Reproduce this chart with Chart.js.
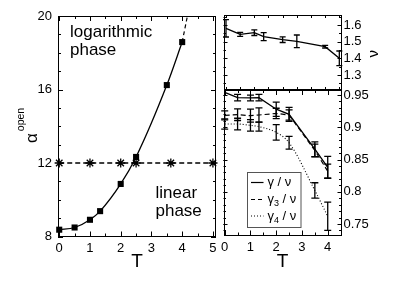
<!DOCTYPE html>
<html><head><meta charset="utf-8">
<script src="https://cdn.jsdelivr.net/npm/chart.js@4/dist/chart.umd.min.js"></script>
<style>
html,body{margin:0;padding:0;background:#fff;}
#wrap{position:relative;width:399px;height:284px;overflow:hidden;background:#fff;}
canvas{position:absolute;left:0;top:0;}
</style></head><body>
<div id="wrap">
<canvas id="cLeft" width="399" height="284"></canvas>
<canvas id="cTop" width="399" height="284"></canvas>
<canvas id="cBot" width="399" height="284"></canvas>
</div>
<script>
// ---------- data ----------
const tempsAlpha = [0, 0.5, 1, 1.33, 2, 2.5, 3.5, 4];
const alphaOpen = [8.37, 8.49, 8.91, 9.38, 10.86, 12.33, 16.24, 18.58];
const tempsExtrap = [4, 4.17];
const alphaExtrap = [18.58, 20];
const tempsStar = [0, 1, 2, 2.5, 3.63, 5];
const alphaStar = [12, 12, 12, 12, 12, 12];
const tempsLine12 = [0, 5];
const alphaLine12 = [12, 12];

const tempsExp = [0, 0.5, 1, 1.33, 2, 2.5, 3.5, 4];
const nuVals = [1.580, 1.544, 1.554, 1.530, 1.512, 1.502, 1.470, 1.400];
const nuErr = [0.052, 0.012, 0.017, 0.024, 0.017, 0.038, 0.008, 0.044];
const gammaNu = [0.954, 0.946, 0.9455, 0.946, 0.928, 0.920, 0.866, 0.838];
const gammaNuErr = [0.0, 0.005, 0.0045, 0.005, 0.011, 0.011, 0.0115, 0.017];
const gamma3Nu = [0.9185, 0.9195, 0.918, 0.919, 0.9215, 0.919, 0.864, 0.832];
const gamma3NuErr = [0.007, 0.009, 0.010, 0.011, 0.008, 0.008, 0.010, 0.011];
const gamma4Nu = [0.905, 0.905, 0.903, 0.901, 0.892, 0.876, 0.802, 0.762];
const gamma4NuErr = [0.008, 0.009, 0.009, 0.007, 0.012, 0.010, 0.012, 0.022];

const ticksLeftX = [0, 1, 2, 3, 4, 5];
const ticksLeftY = [8, 12, 16, 20];
const ticksNuY = [1.3, 1.4, 1.5, 1.6];
const ticksGammaY = [0.75, 0.8, 0.85, 0.9, 0.95];
const ticksRightX = [0, 1, 2, 3, 4];

// ---------- helpers ----------
const FONT = "'Liberation Sans', Arial, Helvetica, sans-serif";
Chart.defaults.font.family = FONT;
Chart.defaults.font.size = 13;
Chart.defaults.color = '#000';

function pts(xs, ys) { return xs.map((x, i) => ({x: x, y: ys[i]})); }
function range(a, b, step) { const out = []; for (let v = a; v <= b + 1e-9; v += step) out.push(+v.toFixed(4)); return out; }
function fmt(v) { return String(+(+v).toFixed(2)); }

function innerTicks(chart, id, values, len, sides) {
  const s = chart.scales[id], a = chart.chartArea, ctx = chart.ctx;
  ctx.save(); ctx.strokeStyle = '#000'; ctx.lineWidth = 1; ctx.beginPath();
  values.forEach(v => {
    const p = Math.round(s.getPixelForValue(v)) + 0.5;
    if (s.isHorizontal()) {
      if (sides.includes('bottom')) { ctx.moveTo(p, a.bottom); ctx.lineTo(p, a.bottom - len); }
      if (sides.includes('top')) { ctx.moveTo(p, a.top); ctx.lineTo(p, a.top + len); }
    } else {
      if (sides.includes('left')) { ctx.moveTo(a.left, p); ctx.lineTo(a.left + len, p); }
      if (sides.includes('right')) { ctx.moveTo(a.right, p); ctx.lineTo(a.right - len, p); }
    }
  });
  ctx.stroke(); ctx.restore();
}
function frame(chart) {
  const a = chart.chartArea, ctx = chart.ctx;
  ctx.save(); ctx.strokeStyle = '#000'; ctx.lineWidth = 1;
  ctx.strokeRect(Math.round(a.left) + 0.5, Math.round(a.top) + 0.5, Math.round(a.right - a.left) - 1, Math.round(a.bottom - a.top) - 1);
  ctx.restore();
}
function errorBars(chart, xs, ys, errs, half) {
  const sx = chart.scales.x, sy = chart.scales.y, ctx = chart.ctx;
  ctx.save(); ctx.strokeStyle = '#000'; ctx.lineWidth = 1.3; ctx.beginPath();
  xs.forEach((x, i) => {
    if (!errs[i]) return;
    const px = sx.getPixelForValue(x);
    const y1 = sy.getPixelForValue(ys[i] + errs[i]);
    const y2 = sy.getPixelForValue(ys[i] - errs[i]);
    ctx.moveTo(px, y1); ctx.lineTo(px, y2);
    ctx.moveTo(px - half, y1); ctx.lineTo(px + half, y1);
    ctx.moveTo(px - half, y2); ctx.lineTo(px + half, y2);
  });
  ctx.stroke(); ctx.restore();
}
function baseOpts(padding) {
  return {
    responsive: false, animation: false, events: [],
    layout: {padding: padding},
    plugins: {legend: {display: false}, tooltip: {enabled: false}},
  };
}
const noGrid = {display: false, drawTicks: false};

// ---------- left panel ----------
new Chart(document.getElementById('cLeft'), {
  type: 'line',
  data: {datasets: [
    {data: pts(tempsAlpha, alphaOpen), borderColor: '#000', borderWidth: 1.3, pointStyle: 'rect', pointRadius: 4.3,
     pointBackgroundColor: '#000', pointBorderColor: '#000', pointBorderWidth: 0, cubicInterpolationMode: 'monotone', clip: false},
    {data: pts(tempsExtrap, alphaExtrap), borderColor: '#000', borderWidth: 1.2, borderDash: [4, 3], pointRadius: 0},
    {data: pts(tempsLine12, alphaLine12), borderColor: '#000', borderWidth: 1.3, borderDash: [5, 3], pointRadius: 0},
    {data: pts(tempsStar, alphaStar), showLine: false, pointStyle: 'star', pointRadius: 4.6,
     pointBorderColor: '#000', pointBackgroundColor: '#000', pointBorderWidth: 1.3, clip: false}
  ]},
  options: Object.assign(baseOpts({left: 0, top: 16, right: 183, bottom: 0}), {
    scales: {
      x: {type: 'linear', min: -0.04, max: 5.1, grid: noGrid, border: {display: false},
          afterBuildTicks: s => { s.ticks = ticksLeftX.map(v => ({value: v})); },
          afterFit: s => { s.height = 47.5; },
          ticks: {autoSkip: false, maxRotation: 0, padding: 4, callback: fmt},
          title: {display: true, text: 'T', font: {size: 19}, padding: {top: 0, bottom: 11}}},
      y: {type: 'linear', min: 8, max: 20, position: 'left', grid: noGrid, border: {display: false},
          afterBuildTicks: s => { s.ticks = ticksLeftY.map(v => ({value: v})); },
          afterFit: s => { s.width = 58; },
          ticks: {autoSkip: false, padding: 6, callback: fmt}}
    }
  }),
  plugins: [{id: 'decorLeft', afterDraw(chart) {
    frame(chart);
    innerTicks(chart, 'x', ticksLeftX, 5, ['bottom', 'top']);
    innerTicks(chart, 'x', range(0.5, 4.5, 1), 3, ['bottom', 'top']);
    innerTicks(chart, 'y', ticksLeftY, 5, ['left', 'right']);
    innerTicks(chart, 'y', range(9, 19, 1).filter(v => v % 4), 3, ['left', 'right']);
    const ctx = chart.ctx;
    ctx.save(); ctx.fillStyle = '#000'; ctx.textBaseline = 'alphabetic'; ctx.textAlign = 'left';
    ctx.font = '17px ' + FONT;
    ctx.fillText('logarithmic', 70, 36.5);
    ctx.fillText('phase', 70, 55);
    ctx.fillText('linear', 155.5, 198);
    ctx.fillText('phase', 155.5, 216);
    // y title alpha^open (rotated)
    ctx.translate(37, 143); ctx.rotate(-Math.PI / 2);
    ctx.font = '17px ' + FONT;
    ctx.fillText('\u03b1', 0, 0);
    const w = ctx.measureText('\u03b1').width;
    ctx.font = '10.5px ' + FONT;
    ctx.fillText('open', w + 2, -13);
    ctx.restore();
  }}]
});

// ---------- top right panel (nu) ----------
new Chart(document.getElementById('cTop'), {
  type: 'line',
  data: {datasets: [
    {data: pts(tempsExp, nuVals), borderColor: '#000', borderWidth: 1.3, pointRadius: 0, tension: 0}
  ]},
  options: Object.assign(baseOpts({left: 223.5, top: 15, right: 0, bottom: 194}), {
    scales: {
      x: {type: 'linear', min: -0.088, max: 4.077, display: false},
      y: {type: 'linear', min: 1.21, max: 1.66, position: 'right', grid: noGrid, border: {display: false},
          afterBuildTicks: s => { s.ticks = ticksNuY.map(v => ({value: v})); },
          afterFit: s => { s.width = 57.5; },
          ticks: {autoSkip: false, padding: 2, callback: fmt}}
    }
  }),
  plugins: [{id: 'decorTop', afterDraw(chart) {
    errorBars(chart, tempsExp, nuVals, nuErr, 3);
    frame(chart);
    innerTicks(chart, 'x', range(0, 4, 0.5), 3, ['bottom', 'top']);
    innerTicks(chart, 'y', ticksNuY, 4, ['left', 'right']);
    innerTicks(chart, 'y', range(1.25, 1.65, 0.1), 2.5, ['left', 'right']);
    const ctx = chart.ctx;
    ctx.save(); ctx.fillStyle = '#000'; ctx.textAlign = 'left'; ctx.textBaseline = 'alphabetic';
    ctx.translate(377.5, 57.5); ctx.rotate(-Math.PI / 2);
    ctx.font = '15px ' + FONT;
    ctx.fillText('\u03bd', 0, 0);
    ctx.restore();
  }}]
});

// ---------- bottom right panel (gamma/nu) ----------
new Chart(document.getElementById('cBot'), {
  type: 'line',
  data: {datasets: [
    {data: pts(tempsExp, gammaNu), borderColor: '#000', borderWidth: 1.3, pointRadius: 0, tension: 0},
    {data: pts(tempsExp, gamma3Nu), borderColor: '#000', borderWidth: 1.2, borderDash: [5, 3], pointRadius: 0, tension: 0},
    {data: pts(tempsExp, gamma4Nu), borderColor: '#000', borderWidth: 1.1, borderDash: [1, 2], pointRadius: 0, cubicInterpolationMode: 'monotone'}
  ]},
  options: Object.assign(baseOpts({left: 223.5, top: 90, right: 0, bottom: 0}), {
    scales: {
      x: {type: 'linear', min: -0.047, max: 4.535, grid: noGrid, border: {display: false},
          afterBuildTicks: s => { s.ticks = ticksRightX.map(v => ({value: v})); },
          afterFit: s => { s.height = 48.5; },
          ticks: {autoSkip: false, maxRotation: 0, padding: 4, callback: fmt},
          title: {display: true, text: 'T', font: {size: 19}, padding: {top: 0, bottom: 11}}},
      y: {type: 'linear', min: 0.7322, max: 0.9578, position: 'right', grid: noGrid, border: {display: false},
          afterBuildTicks: s => { s.ticks = ticksGammaY.map(v => ({value: v})); },
          afterFit: s => { s.width = 57.5; },
          ticks: {autoSkip: false, padding: 2, callback: fmt}}
    }
  }),
  plugins: [{id: 'decorBot', afterDraw(chart) {
    errorBars(chart, tempsExp, gammaNu, gammaNuErr, 3.5);
    errorBars(chart, tempsExp, gamma3Nu, gamma3NuErr, 3.5);
    errorBars(chart, tempsExp, gamma4Nu, gamma4NuErr, 3.5);
    frame(chart);
    innerTicks(chart, 'x', ticksRightX, 5, ['bottom', 'top']);
    innerTicks(chart, 'x', range(0.5, 4.5, 1), 3, ['bottom', 'top']);
    innerTicks(chart, 'y', ticksGammaY, 4, ['left', 'right']);
    innerTicks(chart, 'y', range(0.74, 0.95, 0.01), 2.5, ['left', 'right']);
    // legend
    const ctx = chart.ctx;
    ctx.save();
    ctx.fillStyle = '#fff'; ctx.fillRect(247.5, 172.5, 53.5, 55);
    ctx.strokeStyle = '#555'; ctx.lineWidth = 1; ctx.strokeRect(247.5, 172.5, 53.5, 55);
    const rows = [
      {y: 182, dash: [], main: '\u03b3', sub: ''},
      {y: 199, dash: [4, 3], main: '\u03b3', sub: '3'},
      {y: 215.5, dash: [1, 2], main: '\u03b3', sub: '4'}
    ];
    ctx.strokeStyle = '#000'; ctx.fillStyle = '#000'; ctx.textBaseline = 'alphabetic'; ctx.textAlign = 'left';
    rows.forEach(r => {
      ctx.setLineDash(r.dash); ctx.lineWidth = 1.2; ctx.beginPath();
      ctx.moveTo(251, r.y + 0.5); ctx.lineTo(263.5, r.y + 0.5); ctx.stroke();
      ctx.setLineDash([]);
      let x = 267.5;
      ctx.font = '13px ' + FONT;
      ctx.fillText(r.main, x, r.y + 4); x += ctx.measureText(r.main).width;
      if (r.sub) { ctx.font = '9px ' + FONT; ctx.fillText(r.sub, x, r.y + 7); x += ctx.measureText(r.sub).width; }
      ctx.font = '13px ' + FONT;
      ctx.fillText(' / \u03bd', x, r.y + 4);
    });
    ctx.restore();
  }}]
});
</script>
</body></html>
